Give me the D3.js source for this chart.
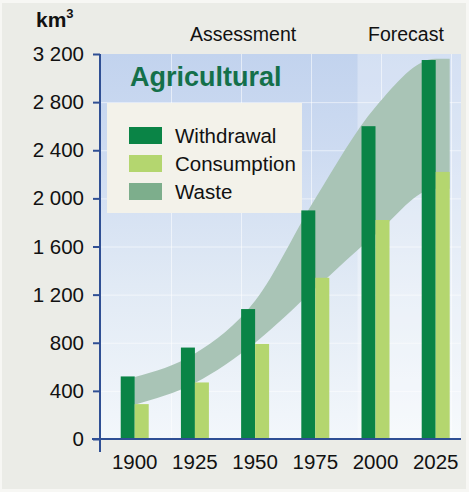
<!DOCTYPE html>
<html>
<head>
<meta charset="utf-8">
<script src="https://cdn.jsdelivr.net/npm/d3@7"></script>
<style>
  html, body { margin: 0; padding: 0; background: #f7f7f4; }
  svg { display: block; font-family: "Liberation Sans", Arial, sans-serif; }
</style>
</head>
<body>
<svg id="chart" width="469" height="492"></svg>
<script>
// ---- data ----
const years = ["1900", "1925", "1950", "1975", "2000", "2025"];
const withdrawal = [520, 760, 1080, 1900, 2600, 3150];
const consumption = [290, 470, 790, 1340, 1820, 2220];
const wasteUpper = [515, 710, 1150, 2000, 2760, 3160];
const wasteLower = [285, 465, 800, 1250, 1700, 2080];
const yTicks = [0, 400, 800, 1200, 1600, 2000, 2400, 2800, 3200];
const legendLabels = ["Withdrawal", "Consumption", "Waste"];
const periodLabels = ["Assessment", "Forecast"];
const titleText = "Agricultural";
const unitText = "km";

// ---- styles ----
const colors = {
  withdrawal: "#0a8446",
  consumption: "#b4d66f",
  wasteSwatch: "#7dae8c",
  wasteBand: "#a9c4b6",
  axis: "#2f4f94",
  title: "#14704a",
  legendBg: "#f3f2ea",
  outer: "#ebece7"
};

const W = 469, H = 492;
const plot = { left: 100, right: 461, top: 54, bottom: 439 };

const svg = d3.select("#chart");

// outer background
svg.append("rect").attr("x", 2).attr("y", 3).attr("width", W - 5).attr("height", H - 6)
  .attr("fill", colors.outer);

// gradient for plot area
const defs = svg.append("defs");
const grad = defs.append("linearGradient").attr("id", "bg").attr("x1", 0).attr("y1", 0).attr("x2", 0).attr("y2", 1);
grad.append("stop").attr("offset", "0%").attr("stop-color", "#c2d3ee");
grad.append("stop").attr("offset", "25%").attr("stop-color", "#cddbf1");
grad.append("stop").attr("offset", "60%").attr("stop-color", "#e1eaf5");
grad.append("stop").attr("offset", "100%").attr("stop-color", "#f3f7fb");

// scales
const x = d3.scaleBand().domain(years).range([plot.left, plot.right])
  .paddingInner(0.535).paddingOuter(0.266).align(0.647);
const y = d3.scaleLinear().domain([0, 3200]).range([plot.bottom, plot.top]);
const half = x.bandwidth() / 2;

// plot background
svg.append("rect").attr("x", plot.left).attr("y", plot.top)
  .attr("width", plot.right - plot.left).attr("height", plot.bottom - plot.top)
  .attr("fill", "url(#bg)");

// forecast region (lighter)
const fcStart = x("2000") - 4;
svg.append("rect").attr("x", fcStart).attr("y", plot.top)
  .attr("width", plot.right - fcStart).attr("height", plot.bottom - plot.top)
  .attr("fill", "#ffffff").attr("opacity", 0.3);

// grid lines
const grid = svg.append("g").attr("stroke", "#ffffff").attr("stroke-opacity", 0.55).attr("stroke-width", 1);
grid.selectAll("line.h").data(yTicks.filter(d => d > 0 && d < 3200)).join("line")
  .attr("x1", plot.left).attr("x2", plot.right)
  .attr("y1", d => y(d) + 0.5).attr("y2", d => y(d) + 0.5);
grid.selectAll("line.v").data(d3.range(plot.left + 71, plot.right, 70)).join("line")
  .attr("x1", d => d + 0.5).attr("x2", d => d + 0.5)
  .attr("y1", plot.top).attr("y2", plot.bottom);

// title
svg.append("text").attr("x", 130).attr("y", 86)
  .attr("font-size", 27).attr("font-weight", "bold").attr("fill", colors.title)
  .text(titleText);

// legend box
const lg = svg.append("g");
lg.append("rect").attr("x", 107).attr("y", 103).attr("width", 195).attr("height", 110)
  .attr("fill", colors.legendBg);
const legendColors = [colors.withdrawal, colors.consumption, colors.wasteSwatch];
legendLabels.forEach((lab, i) => {
  lg.append("rect").attr("x", 129).attr("y", 127 + i * 28).attr("width", 33).attr("height", 17)
    .attr("fill", legendColors[i]);
  lg.append("text").attr("x", 175).attr("y", 143 + i * 28)
    .attr("font-size", 20.5).attr("fill", "#111").text(lab);
});

// waste band
const pts = years.map((yr, i) => ({ x: x(yr) + half, u: wasteUpper[i], l: wasteLower[i] }));
const lastI = years.length - 1;
pts.push({ x: x(years[lastI]) + x.bandwidth(), u: wasteUpper[lastI], l: wasteLower[lastI] });
const area = d3.area().x(d => d.x).y0(d => y(d.l)).y1(d => y(d.u)).curve(d3.curveMonotoneX);
svg.append("path").datum(pts).attr("d", area).attr("fill", colors.wasteBand);

// bars
const bars = svg.append("g");
bars.selectAll("rect.w").data(years).join("rect")
  .attr("x", d => x(d)).attr("width", half)
  .attr("y", (d, i) => y(withdrawal[i])).attr("height", (d, i) => y(0) - y(withdrawal[i]))
  .attr("fill", colors.withdrawal);
bars.selectAll("rect.c").data(years).join("rect")
  .attr("x", d => x(d) + half).attr("width", half)
  .attr("y", (d, i) => y(consumption[i])).attr("height", (d, i) => y(0) - y(consumption[i]))
  .attr("fill", colors.consumption);

// axes
const fmt = d3.formatLocale({ decimal: ".", thousands: " ", grouping: [3], currency: ["", ""] }).format(",");
const yAxis = svg.append("g").attr("transform", `translate(${plot.left},0)`)
  .call(d3.axisLeft(y).tickValues(yTicks).tickFormat(fmt).tickSize(7).tickPadding(9));
yAxis.select(".domain").remove();
yAxis.selectAll(".tick line").attr("stroke", colors.axis).attr("stroke-width", 2);
yAxis.selectAll(".tick text").attr("font-size", 20.5).attr("fill", "#111")
  .attr("font-family", "Liberation Sans, Arial, sans-serif");

// axis lines
svg.append("line").attr("x1", plot.left).attr("x2", plot.left).attr("y1", plot.top).attr("y2", 452)
  .attr("stroke", colors.axis).attr("stroke-width", 2);
svg.append("line").attr("x1", plot.left - 8).attr("x2", plot.right).attr("y1", plot.bottom).attr("y2", plot.bottom)
  .attr("stroke", colors.axis).attr("stroke-width", 2);

const xAxis = svg.append("g").attr("transform", `translate(0,${plot.bottom})`)
  .call(d3.axisBottom(x).tickSize(0).tickPadding(15));
xAxis.select(".domain").remove();
xAxis.selectAll(".tick text").attr("font-size", 20.5).attr("fill", "#111")
  .attr("font-family", "Liberation Sans, Arial, sans-serif");

// unit label
const unit = svg.append("text").attr("x", 36).attr("y", 27).attr("font-size", 21).attr("font-weight", "bold").attr("fill", "#111");
unit.append("tspan").text(unitText);
unit.append("tspan").attr("font-size", 13).attr("dy", -9).text("3");

// period labels
svg.append("text").attr("x", 190).attr("y", 41).attr("font-size", 19.5).attr("fill", "#111").text(periodLabels[0]);
svg.append("text").attr("x", 368).attr("y", 41).attr("font-size", 19.5).attr("fill", "#111").text(periodLabels[1]);
</script>
</body>
</html>
